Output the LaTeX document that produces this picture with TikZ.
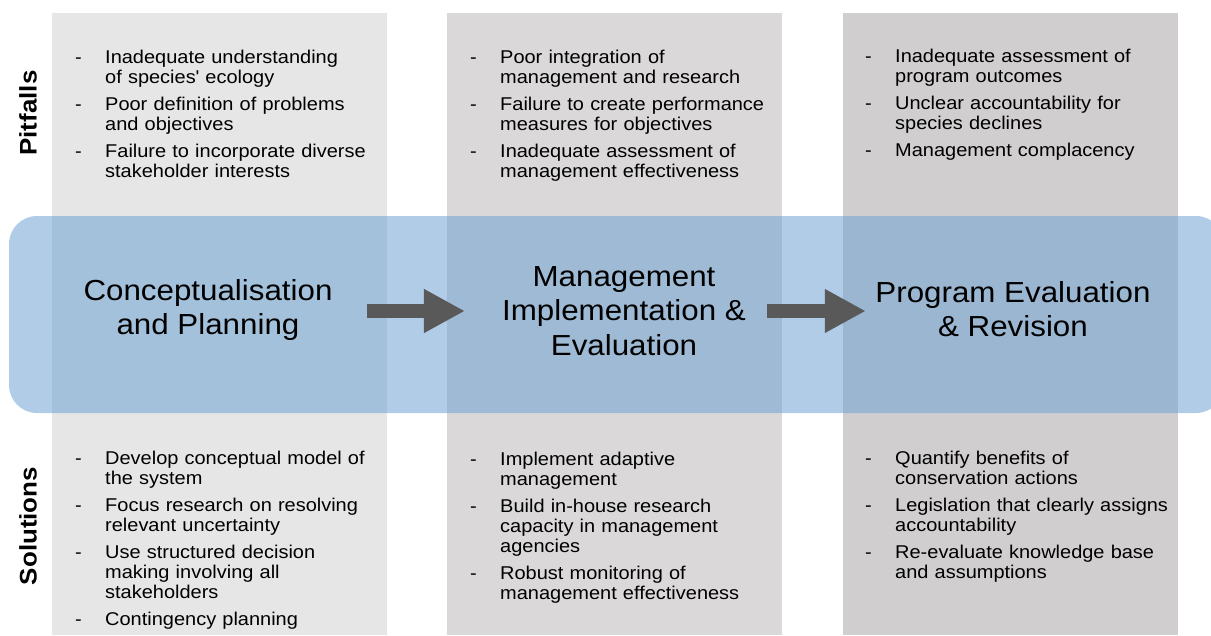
\documentclass[tikz,border=0pt]{standalone}
\usepackage{fontspec}
\setmainfont{Liberation Sans}[FakeStretch=1.08]
\usetikzlibrary{arrows.meta}

\definecolor{colA}{HTML}{E6E6E6}
\definecolor{colB}{HTML}{DAD8D9}
\definecolor{colC}{HTML}{D0CECF}
\definecolor{bandblue}{HTML}{6FA3D3}
\definecolor{arrowgray}{HTML}{595959}

% 短横线列表
\newenvironment{dashlist}{%
  \begin{list}{-}{%
    \setlength{\leftmargin}{30pt}\setlength{\labelwidth}{30pt}%
    \setlength{\labelsep}{0pt}\setlength{\itemindent}{0pt}%
    \setlength{\itemsep}{7pt}\setlength{\parsep}{0pt}%
    \setlength{\topsep}{0pt}\setlength{\partopsep}{0pt}%
    \def\makelabel##1{\strut##1\hfil}}}%
  {\end{list}}

\begin{document}
\begin{tikzpicture}[x=1pt,y=-1pt,
  stage/.style={align=center,inner sep=0pt,font=\fontsize{29}{34.5}\selectfont},
  sidelabel/.style={rotate=90,inner sep=0pt,font=\fontsize{24}{28}\selectfont\bfseries},
  bullets/.style={anchor=base west,text width=340pt,inner sep=0pt,align=left,
    font=\fontsize{18.5}{20}\selectfont},
  flow/.style={line width=14pt,arrowgray,-{Triangle[length=41pt,width=41pt]}}]
  \useasboundingbox (0,0) rectangle (1211,635);

  % 三列灰色背景
  \foreach \x/\c in {52/colA,447/colB,843/colC}{
    \fill[\c] (\x,13) rectangle ++(334.5,622);
  }

  % 蓝色横带
  \begin{scope}
    \clip (0,0) rectangle (1211,635);
    \fill[bandblue,fill opacity=0.55,rounded corners=28pt]
      (9,216) rectangle (1224,413);
  \end{scope}

  \node[sidelabel] (pitfalls) at (28,113) {Pitfalls};
  \node[sidelabel] (solutions) at (28,526) {Solutions};

  % 阶段
  \node[stage] (plan) at (208,310) {Conceptualisation\\and Planning};
  \node[stage] (impl) at (624,311) {Management\\Implementation \&\\Evaluation};
  \node[stage] (eval) at (1013,309) {Program Evaluation\\\& Revision};

  \draw[flow,shorten <=34.5pt,shorten >=37pt] (plan.east |- impl) -- (impl);
  \draw[flow,shorten <=21pt,shorten >=9.5pt] (impl) -- (eval.west |- impl);

  % 问题
  \node[bullets] (pitA) at (75,43) {\begin{dashlist}
    \item Inadequate understanding\\of species\textquotesingle{} ecology
    \item Poor definition of problems\\and objectives
    \item Failure to incorporate diverse\\stakeholder interests
  \end{dashlist}};
  \node[bullets] (pitB) at (470,43) {\begin{dashlist}
    \item Poor integration of\\management and research
    \item Failure to create performance\\measures for objectives
    \item Inadequate assessment of\\management effectiveness
  \end{dashlist}};
  \node[bullets] (pitC) at (865,42) {\begin{dashlist}
    \item Inadequate assessment of\\program outcomes
    \item Unclear accountability for\\species declines
    \item Management complacency
  \end{dashlist}};

  % 对策
  \node[bullets] (solA) at (75,444) {\begin{dashlist}
    \item Develop conceptual model of\\the system
    \item Focus research on resolving\\relevant uncertainty
    \item Use structured decision\\making involving all\\stakeholders
    \item Contingency planning
  \end{dashlist}};
  \node[bullets] (solB) at (470,445) {\begin{dashlist}
    \item Implement adaptive\\management
    \item Build in-house research\\capacity in management\\agencies
    \item Robust monitoring of\\management effectiveness
  \end{dashlist}};
  \node[bullets] (solC) at (865,444) {\begin{dashlist}
    \item Quantify benefits of\\conservation actions
    \item Legislation that clearly assigns\\accountability
    \item Re-evaluate knowledge base\\and assumptions
  \end{dashlist}};
\end{tikzpicture}
\end{document}
